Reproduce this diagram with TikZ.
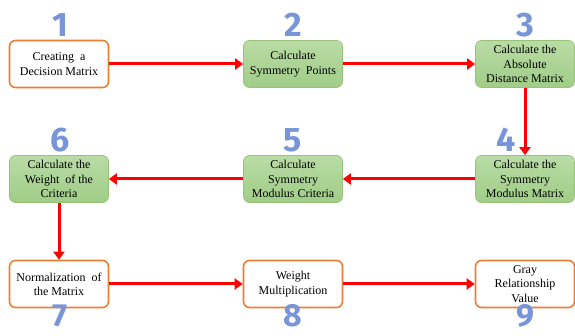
\documentclass[tikz,border=0pt]{standalone}
\usepackage{fontspec}
\setmainfont{Liberation Serif}
\newfontfamily\numfont{Fira Sans}
\usetikzlibrary{arrows.meta}
\definecolor{oborder}{RGB}{237,125,49}
\definecolor{gborder}{RGB}{150,195,120}
\definecolor{gtop}{RGB}{185,220,165}
\definecolor{gbot}{RGB}{160,205,135}
\definecolor{numblue}{RGB}{120,150,215}
\begin{document}
\begin{tikzpicture}[x=1pt,y=-1pt,
 box/.style={rounded corners=6pt, minimum width=99pt, minimum height=47pt, align=center,
   font=\rmfamily\fontsize{12}{14.3}\selectfont, inner sep=1pt, text=black},
 obox/.style={box, draw=oborder, line width=1.6pt, fill=white},
 gbox/.style={box, draw=gborder, line width=0.7pt, top color=gtop, bottom color=gbot},
 num/.style={font=\numfont\bfseries\fontsize{34}{34}\selectfont, text=numblue, inner sep=0pt},
 bnum/.style={num, font=\numfont\bfseries\fontsize{32}{32}\selectfont},
 arr/.style={draw=red, line width=3pt, -{Triangle[length=8pt,width=11pt]}}
]
\useasboundingbox (0,0) rectangle (575,336);

\node[obox] (n1) at (59,64) {Creating\ \ a\\Decision Matrix};
\node[gbox] (n2) at (293,64) {Calculate\\Symmetry\ \ Points};
\node[gbox] (n3) at (525,64) {Calculate the\\Absolute\\Distance Matrix};
\node[gbox] (n4) at (525,179) {Calculate the\\Symmetry\\Modulus Matrix};
\node[gbox] (n5) at (293,179) {Calculate\\Symmetry\\Modulus Criteria};
\node[gbox] (n6) at (59,179) {Calculate the\\Weight\ \ of the\\Criteria};
\node[obox] (n7) at (59,284) {Normalization\ \ of\\the Matrix};
\node[obox] (n8) at (293,284) {Weight\\Multiplication};
\node[obox] (n9) at (525,284) {Gray\\Relationship\\Value};

\node[num] (d1) at (60,25) {1};
\node[num] (d2) at (293,25) {2};
\node[num] (d3) at (525,25) {3};
\node[num] (d4) at (506,140) {4};
\node[num] (d5) at (293,140) {5};
\node[num] (d6) at (60,140) {6};
\node[bnum] (d7) at (60,316) {7};
\node[bnum] (d8) at (293,316) {8};
\node[bnum] (d9) at (525,316) {9};

\draw[arr] (n1) -- (n2);
\draw[arr] (n2) -- (n3);
\draw[arr] (n3) -- (n4);
\draw[arr] (n4) -- (n5);
\draw[arr] (n5) -- (n6);
\draw[arr] (n6) -- (n7);
\draw[arr] (n7) -- (n8);
\draw[arr] (n8) -- (n9);
\end{tikzpicture}
\end{document}
